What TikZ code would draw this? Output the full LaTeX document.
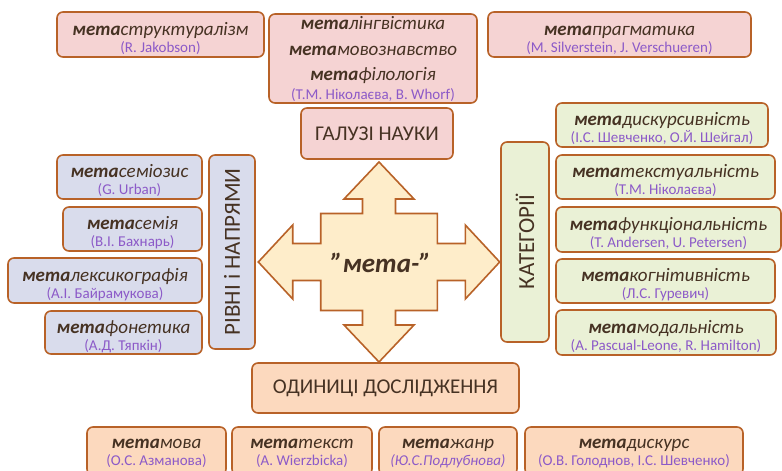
\documentclass[tikz,border=0pt]{standalone}
\usepackage{fontspec}
\setmainfont{Carlito}
\definecolor{edge}{RGB}{184,98,40}
\definecolor{ink}{RGB}{70,50,35}
\definecolor{citecol}{RGB}{140,90,200}
\definecolor{pinkfill}{RGB}{245,211,211}
\definecolor{bluefill}{RGB}{217,220,236}
\definecolor{greenfill}{RGB}{234,241,214}
\definecolor{peachfill}{RGB}{252,217,190}
\definecolor{arrowfill}{RGB}{254,237,202}
\newcommand{\meta}[1]{\textbf{мета}#1}
\newcommand{\auth}[1]{{\fontsize{15}{17}\selectfont\upshape\color{citecol}#1}}
\newcommand{\entry}[3][21pt]{\rule{0pt}{#1}\meta{#2}\\[-3pt]\auth{#3}}
\tikzset{
  box/.style={draw=edge, line width=1.6pt, rounded corners=6pt, align=center,
    text=ink, inner sep=0pt, font=\fontsize{19}{20}\selectfont\itshape},
  head/.style={box, font=\fontsize{21}{24}\selectfont},
  vhead/.style={box, font=\fontsize{23}{26}\selectfont, rotate=90},
  boxsize/.style 2 args={minimum width=#1pt, minimum height=#2pt},
  pinkbox/.style={box, fill=pinkfill},
  bluebox/.style={box, fill=bluefill},
  greenbox/.style={box, fill=greenfill},
  peachbox/.style={box, fill=peachfill},
}
\begin{document}
\begin{tikzpicture}[x=1pt,y=-1pt]
  \clip (0,0) rectangle (782,471);
  % central cross of arrows
  \begin{scope}[shift={(379,262)}]
    \draw[edge, fill=arrowfill, line width=1.6pt, line join=miter]
      (0,-100) -- (35,-63) -- (16.5,-63) -- (16.5,-48.5) -- (58.3,-48.5)
      -- (58.3,-18.5) -- (86.3,-18.5) -- (86.3,-37) -- (120.7,0)
      -- (86.3,37) -- (86.3,18.5) -- (58.3,18.5) -- (58.3,48.5)
      -- (16.5,48.5) -- (16.5,63) -- (35,63) -- (0,100)
      -- (-35,63) -- (-16.5,63) -- (-16.5,48.5) -- (-58.3,48.5)
      -- (-58.3,18.5) -- (-86.3,18.5) -- (-86.3,37) -- (-120.7,0)
      -- (-86.3,-37) -- (-86.3,-18.5) -- (-58.3,-18.5) -- (-58.3,-48.5)
      -- (-16.5,-48.5) -- (-16.5,-63) -- (-35,-63) -- cycle;
  \end{scope}
  \node[text=ink, font=\fontsize{27}{30}\selectfont\itshape\bfseries] (meta) at (381,263) {"мета-"};

  % galuzi nauky
  \node[pinkbox, boxsize={207}{45}] (struct) at (160.5,34.5)
    {\entry{структуралізм}{(R. Jakobson)}};
  \node[pinkbox, boxsize={208}{89}] (lingv) at (373,58.5)
    {\rule{0pt}{14pt}\meta{лінгвістика}\\[6pt]\meta{мовознавство}\\[5pt]\meta{філологія}\\[-1pt]\auth{(Т.М. Ніколаєва, B. Whorf)}};
  \node[pinkbox, boxsize={263}{45}] (pragm) at (619.5,34.5)
    {\entry{прагматика}{(M. Silverstein, J. Verschueren)}};
  \node[head, fill=pinkfill, boxsize={152}{51}] (galuzi) at (377,133.5) {ГАЛУЗІ НАУКИ};

  % rivni i napriamy
  \node[bluebox, boxsize={145}{44}] (semioz) at (129.5,177)
    {\entry{семіозис}{(G. Urban)}};
  \node[bluebox, boxsize={139}{44}] (semia) at (132.5,229)
    {\entry{семія}{(В.І. Бахнарь)}};
  \node[bluebox, boxsize={194}{45}] (leks) at (105,280.5)
    {\entry{лексикографія}{(А.І. Байрамукова)}};
  \node[bluebox, boxsize={157}{43}] (fonet) at (123.5,332.5)
    {\entry{фонетика}{(А.Д. Тяпкін)}};
  \node[vhead, fill=bluefill, boxsize={194}{46}] (rivni) at (232,252) {РІВНІ і НАПРЯМИ};

  % katehorii
  \node[vhead, fill=greenfill, boxsize={200}{48}] (kateg) at (525,242) {КАТЕГОРІЇ};
  \node[greenbox, boxsize={212}{44}] (dyskurs) at (662,125)
    {\entry{дискурсивність}{(І.С. Шевченко, О.Й. Шейгал)}};
  \node[greenbox, boxsize={219}{44}] (tekst) at (665.5,177)
    {\entry{текстуальність}{(Т.М. Ніколаєва)}};
  \node[greenbox, boxsize={225}{45}] (funk) at (668.5,229.5)
    {\entry{функціональність}{(T. Andersen, U. Petersen)}};
  \node[greenbox, boxsize={219}{44}] (kogn) at (665.5,281)
    {\entry{когнітивність}{(Л.С. Гуревич)}};
  \node[greenbox, boxsize={220}{45}] (modal) at (666,332.5)
    {\entry{модальність}{(A. Pascual-Leone, R. Hamilton)}};

  % odynytsi doslidzhennia
  \node[head, fill=peachfill, boxsize={267}{50}] (odyn) at (385.5,388) {ОДИНИЦІ ДОСЛІДЖЕННЯ};
  \node[peachbox, boxsize={139}{48}] (mova) at (156.5,451)
    {\entry[14.5pt]{мова}{(О.С. Азманова)}};
  \node[peachbox, boxsize={140}{48}] (textn) at (302,451)
    {\entry[14.5pt]{текст}{(A. Wierzbicka)}};
  \node[peachbox, boxsize={138}{48}] (zhanr) at (448,451)
    {\entry[14.5pt]{жанр}{\itshape(Ю.С.Подлубнова)}};
  \node[peachbox, boxsize={218}{48}] (dysk) at (634,451)
    {\entry[14.5pt]{дискурс}{(О.В. Голоднов, І.С. Шевченко)}};
\end{tikzpicture}
\end{document}
